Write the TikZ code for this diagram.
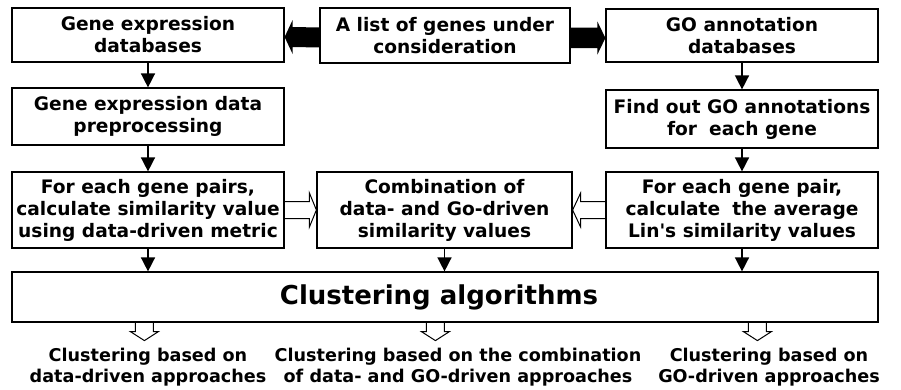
\documentclass[tikz,border=0pt]{standalone}
\usepackage{fontspec}
\setmainfont{DejaVu Sans}
\usetikzlibrary{arrows.meta,calc}
\begin{document}
\begin{tikzpicture}[x=1pt,y=-1pt,
  box/.style={draw, line width=1.2pt, align=center, inner sep=0pt,
    font=\bfseries\fontsize{18.6}{22}\selectfont},
  lbl/.style={align=center, inner sep=0pt, font=\bfseries\fontsize{17.6}{21.5}\selectfont},
  dn/.style={line width=1.5pt, -{Triangle[length=14pt,width=14pt]}},
  hollow/.style={line width=1pt, line join=miter},
  blk/.style={fill=black}]
\useasboundingbox (0,0) rectangle (901,389);
% boxes
\node[box, minimum width=272pt, minimum height=54pt] (ged) at (148,35) {Gene expression\\databases};
\node[box, minimum width=250pt, minimum height=55pt] (list) at (445,35.5) {A list of genes under\\consideration};
\node[box, minimum width=272pt, minimum height=53pt] (goa) at (742,35.5) {GO annotation\\databases};
\node[box, minimum width=272pt, minimum height=57pt] (pre) at (148,116.5) {Gene expression data\\preprocessing};
\node[box, minimum width=272pt, minimum height=58pt] (find) at (742,119) {Find out GO annotations\\for\hspace{0.3em} each gene};
\node[box, minimum width=272pt, minimum height=76pt] (pairL) at (148,210) {For each gene pairs,\\calculate similarity value\\using data-driven metric};
\node[box, minimum width=255pt, minimum height=76pt] (comb) at (444.5,210) {Combination of\\data- and Go-driven\\similarity values};
\node[box, minimum width=272pt, minimum height=76pt] (pairR) at (742,210) {For each gene pair,\\calculate\hspace{0.3em} the average\\Lin\textquotesingle s similarity values};
\node[box, minimum width=866pt, minimum height=50pt, font=\bfseries\fontsize{26}{30}\selectfont] (clus) at (445,297) {Clustering algorithms\hspace*{12pt}};
% bottom labels
\node[lbl] (r1) at (148,367) {Clustering based on\\data-driven approaches};
\node[lbl] (r2) at (458,367) {Clustering based on the combination\\of data- and GO-driven approaches};
\node[lbl] (r3) at (769,367) {Clustering based on\\GO-driven approaches};
% black down arrows
\draw[dn] (ged) -- (pre);
\draw[dn] (pre) -- (pairL);
\draw[dn] (goa) -- (find);
\draw[dn] (find) -- (pairR);
\draw[dn] (pairL.south) -- (pairL.south |- clus.north);
\draw[dn] (comb.south) -- (comb.south |- clus.north);
\draw[dn] (pairR.south) -- (pairR.south |- clus.north);
% block arrows from the list
\fill[blk] ($(list.west)+(0,-8)$) -- ($(ged.east)+(8,-8)$) -- ($(ged.east)+(8,-15)$) -- ($(ged.east)+(0,2)$) -- ($(ged.east)+(8,19)$) -- ($(ged.east)+(8,12)$) -- ($(list.west)+(0,12)$) -- cycle;
\fill[blk] ($(list.east)+(0,-8)$) -- ($(goa.west)+(-8,-8)$) -- ($(goa.west)+(-8,-14)$) -- ($(goa.west)+(0,2.5)$) -- ($(goa.west)+(-8,19)$) -- ($(goa.west)+(-8,12.5)$) -- ($(list.east)+(0,12.5)$) -- cycle;
% hollow horizontal arrows
\draw[hollow] ($(pairL.east)+(0,-8.5)$) -- ($(comb.west)+(-7,-8.5)$) -- ($(comb.west)+(-7,-17)$) -- (comb.west) -- ($(comb.west)+(-7,17)$) -- ($(comb.west)+(-7,8.5)$) -- ($(pairL.east)+(0,8.5)$);
\draw[hollow] ($(pairR.west)+(0,-8.5)$) -- ($(comb.east)+(8,-8.5)$) -- ($(comb.east)+(8,-17)$) -- (comb.east) -- ($(comb.east)+(8,17)$) -- ($(comb.east)+(8,8.5)$) -- ($(pairR.west)+(0,8.5)$);
% hollow down arrows
\foreach \dx/\n in {133/a,424/b,746/c} {
  \coordinate (d\n) at ($(clus.south west)+(\dx,0)$);
  \draw[hollow] ($(d\n)+(-9,0)$) -- ++(0,9) -- ++(-5,0) -- ($(d\n)+(0,18)$) -- ($(d\n)+(14,9)$) -- ++(-5,0) -- ++(0,-9);
}
\end{tikzpicture}
\end{document}
